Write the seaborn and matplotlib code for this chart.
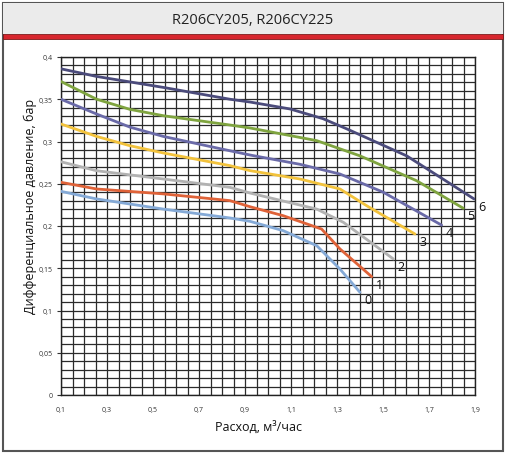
import pandas as pd
import matplotlib
matplotlib.use("Agg")
import matplotlib.pyplot as plt
from matplotlib.patches import Rectangle
from matplotlib.ticker import MultipleLocator, FuncFormatter
import seaborn as sns

# --- data (flow m3/h, pressure bar) ---
curve_names = ["0", "1", "2", "3", "4", "5", "6"]
curve_colors = ["#84a9d6", "#df6238", "#b2b2b2", "#f2c23c", "#6a6aa8", "#7fa43f", "#4b4b7b"]

flow_0 = [0.10, 0.255, 0.545, 0.835, 0.922, 1.066, 1.212, 1.313, 1.40]
pres_0 = [0.241, 0.232, 0.220, 0.2095, 0.2055, 0.1945, 0.1767, 0.149, 0.1215]

flow_1 = [0.10, 0.255, 0.545, 0.835, 0.922, 1.066, 1.233, 1.313, 1.451]
pres_1 = [0.2517, 0.2438, 0.238, 0.230, 0.2228, 0.2122, 0.1964, 0.1728, 0.140]

flow_2 = [0.10, 0.255, 0.545, 0.835, 0.922, 1.212, 1.328, 1.545]
pres_2 = [0.276, 0.2654, 0.2556, 0.2457, 0.239, 0.220, 0.2043, 0.161]

flow_3 = [0.10, 0.255, 0.40, 0.545, 0.835, 0.922, 1.139, 1.313, 1.429, 1.639]
pres_3 = [0.3207, 0.306, 0.295, 0.2864, 0.2714, 0.2655, 0.2556, 0.2438, 0.224, 0.1905]

flow_4 = [0.10, 0.255, 0.40, 0.545, 0.835, 0.922, 1.139, 1.313, 1.501, 1.755]
pres_4 = [0.350, 0.3325, 0.317, 0.306, 0.289, 0.284, 0.273, 0.2615, 0.240, 0.201]

flow_5 = [0.10, 0.255, 0.40, 0.545, 0.835, 0.922, 1.212, 1.40, 1.646, 1.849]
pres_5 = [0.371, 0.350, 0.338, 0.3305, 0.3195, 0.316, 0.301, 0.283, 0.2536, 0.221]

flow_6 = [0.10, 0.255, 0.545, 0.835, 0.922, 1.096, 1.239, 1.342, 1.603, 1.896]
pres_6 = [0.386, 0.377, 0.364, 0.350, 0.3467, 0.3385, 0.327, 0.315, 0.283, 0.232]

x_ticks = [0.1, 0.3, 0.5, 0.7, 0.9, 1.1, 1.3, 1.5, 1.7, 1.9]
y_ticks = [0, 0.05, 0.1, 0.15, 0.2, 0.25, 0.3, 0.35, 0.4]

flows = [flow_0, flow_1, flow_2, flow_3, flow_4, flow_5, flow_6]
pressures = [pres_0, pres_1, pres_2, pres_3, pres_4, pres_5, pres_6]

rows = []
for name, fl, pr in zip(curve_names, flows, pressures):
    for i, (f, p) in enumerate(zip(fl, pr)):
        rows.append({"curve": name, "order": i, "flow": f, "pressure": p})
df = pd.DataFrame(rows)

sns.set_theme(style="white")
plt.rcParams["font.family"] = ["Open Sans", "DejaVu Sans"]

fig = plt.figure(figsize=(5.08, 4.56), dpi=100)
ax = fig.add_axes([61 / 508, 1 - 396 / 456, 414 / 508, 338 / 456])

# frame, grey header and red band
fig.patches.append(Rectangle((3 / 508, 1 - 452 / 456), 500 / 508, 448 / 456,
                             transform=fig.transFigure, fill=False,
                             edgecolor="#555555", lw=1.5, zorder=0))
fig.patches.append(Rectangle((3 / 508, 1 - 35 / 456), 500 / 508, 31 / 456,
                             transform=fig.transFigure, facecolor="#ebebeb",
                             edgecolor="none", zorder=0))
fig.patches.append(Rectangle((3 / 508, 1 - 40 / 456), 500 / 508, 5 / 456,
                             transform=fig.transFigure, facecolor="#d7262e",
                             edgecolor="#7a1a1a", lw=0.6, zorder=0))
fig.text(253 / 508, 1 - 21 / 456, "R206CY205, R206CY225", ha="center", va="center",
         fontsize=10.5, color="#222222")

palette = dict(zip(curve_names, curve_colors))
for name in curve_names:
    sub = df[df["curve"] == name].sort_values("order")
    sns.lineplot(data=sub, x="flow", y="pressure", color=palette[name], sort=False,
                 estimator=None, lw=2.0, ax=ax, zorder=3, legend=False)
    ax.annotate(name, (sub["flow"].iloc[-1], sub["pressure"].iloc[-1]),
                xytext=(3, -8), textcoords="offset points", fontsize=9,
                color="#111111", zorder=4)

ax.set_xlim(0.1, 1.9)
ax.set_ylim(0, 0.4)
ax.set_xticks(x_ticks)
ax.set_yticks(y_ticks)
ax.xaxis.set_minor_locator(MultipleLocator(0.05))
ax.yaxis.set_minor_locator(MultipleLocator(0.01))
comma = FuncFormatter(lambda v, p: ("%g" % round(v, 3)).replace(".", ","))
ax.xaxis.set_major_formatter(comma)
ax.yaxis.set_major_formatter(comma)
ax.grid(which="both", color="#2b2b2b", lw=0.9)
ax.set_axisbelow(True)
ax.tick_params(axis="x", which="major", labelsize=5, length=0, pad=8, colors="#333333")
ax.tick_params(axis="y", which="major", labelsize=5, length=3, width=0.8, pad=3,
               left=True, colors="#333333")
for s in ax.spines.values():
    s.set_color("#222222")
    s.set_linewidth(1.0)

ax.set_xlabel("Расход, м³/час", fontsize=9, color="#111111")
ax.set_ylabel("Дифференциальное давление, бар", fontsize=9, color="#111111")
ax.xaxis.set_label_coords(0.478, -0.072)
ax.yaxis.set_label_coords(-0.058, 0.562)

fig.savefig("out.png", dpi=100)
